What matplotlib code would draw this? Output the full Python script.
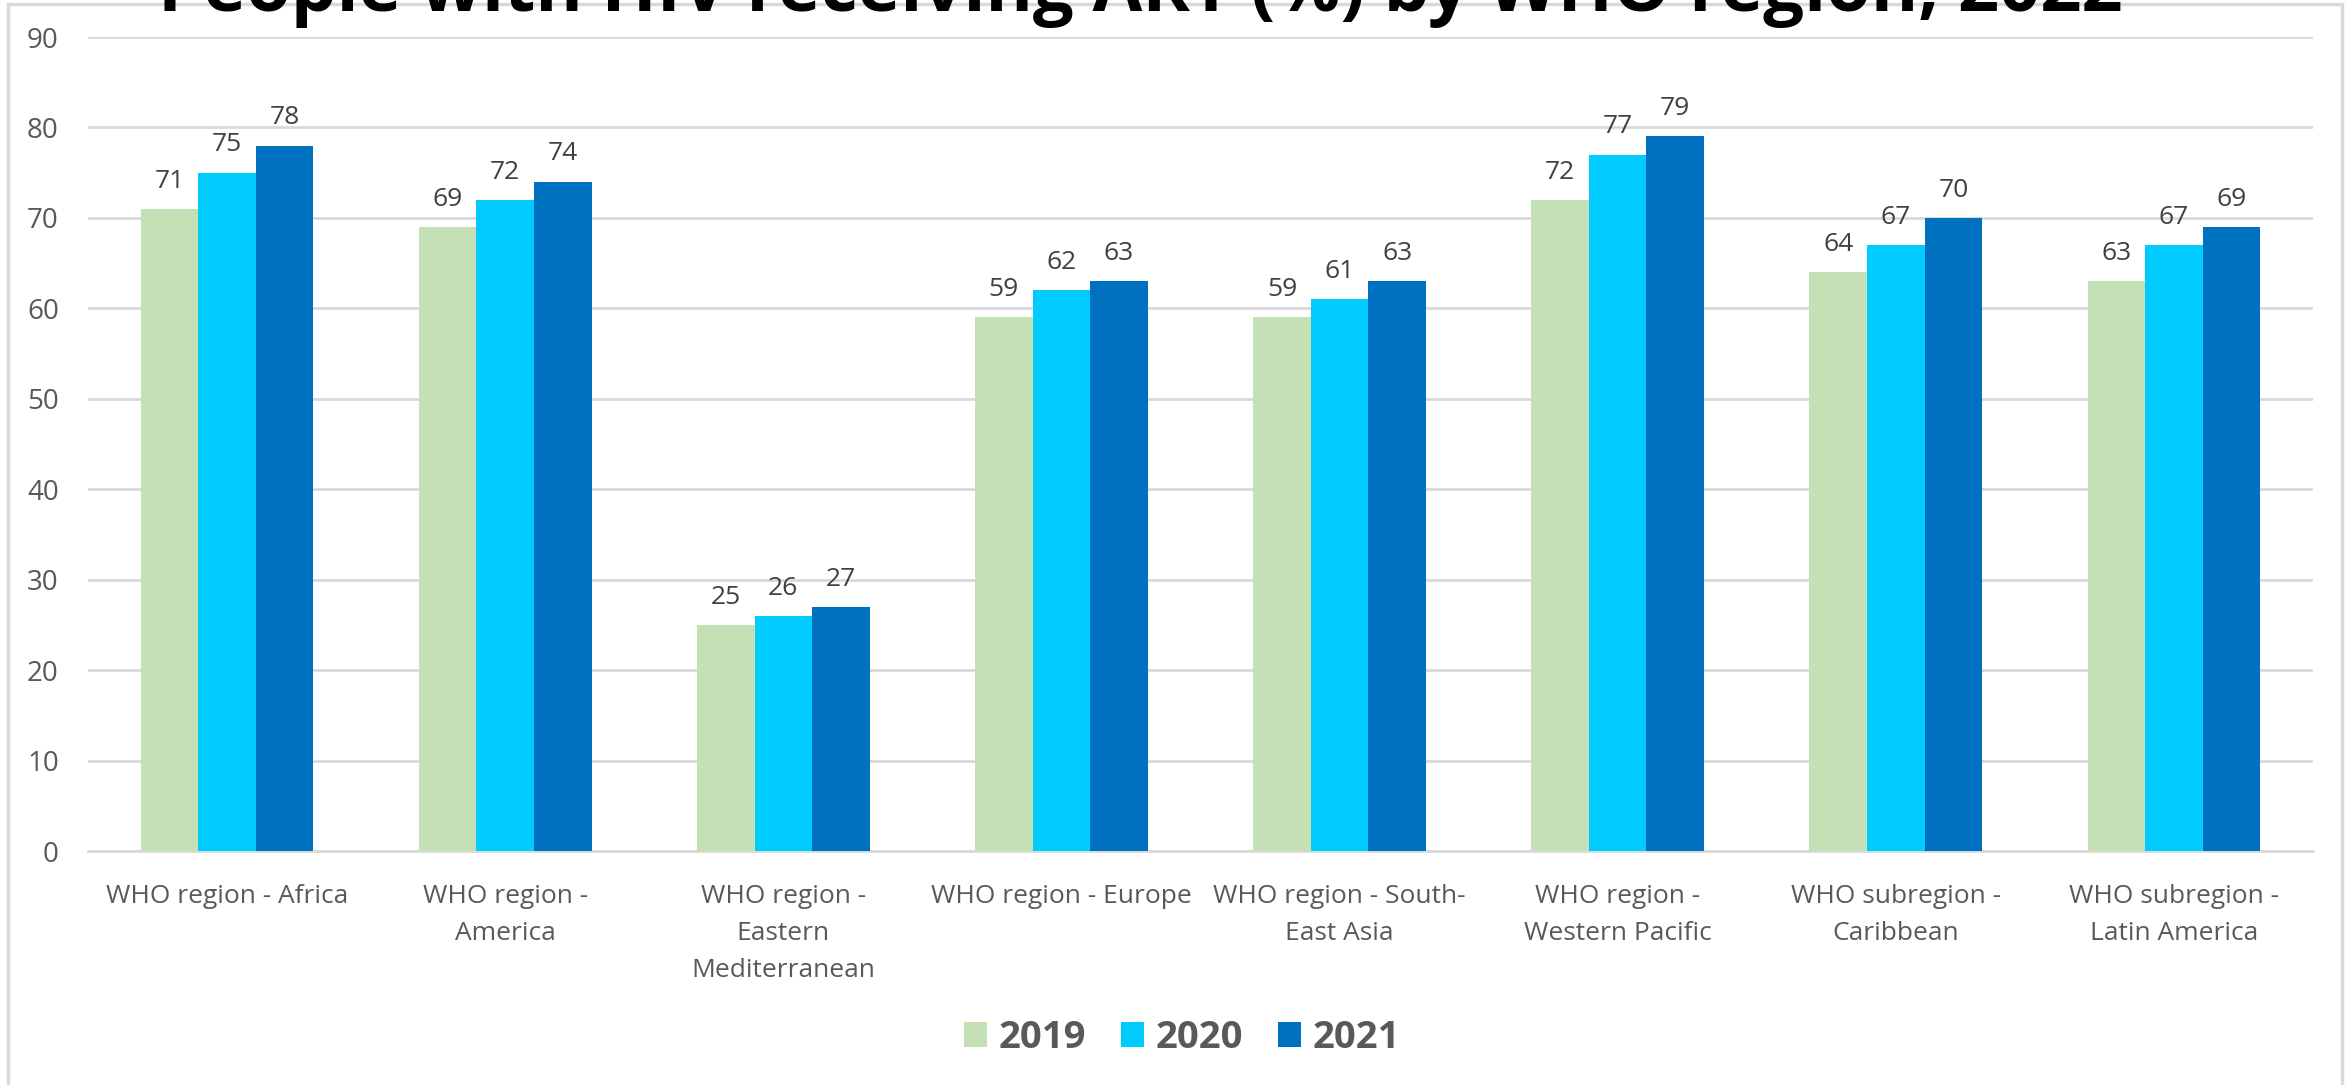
import numpy as np
import matplotlib
matplotlib.use("Agg")
import matplotlib.pyplot as plt
from matplotlib.patches import Rectangle

# Data
regions = ["WHO region - Africa", "WHO region -\nAmerica", "WHO region -\nEastern\nMediterranean",
           "WHO region - Europe", "WHO region - South-\nEast Asia", "WHO region -\nWestern Pacific",
           "WHO subregion -\nCaribbean", "WHO subregion -\nLatin America"]
years = ["2019", "2020", "2021"]
art_2019 = [71, 69, 25, 59, 59, 72, 64, 63]
art_2020 = [75, 72, 26, 62, 61, 77, 67, 67]
art_2021 = [78, 74, 27, 63, 63, 79, 70, 69]
colors = ["#c5e0b4", "#00ccff", "#0070c0"]

plt.rcParams['font.family'] = ['Open Sans', 'DejaVu Sans']

W, H = 2351, 1085
fig = plt.figure(figsize=(W / 100, H / 100), dpi=100)
ax = fig.add_axes([88 / W, 1 - 851 / H, (2313 - 88) / W, (851 - 37) / H])

x = np.arange(len(regions))
width = 0.207
for i, (vals, col, yr) in enumerate(zip([art_2019, art_2020, art_2021], colors, years)):
    bars = ax.bar(x + (i - 1) * width, vals, width, color=col, label=yr, zorder=3)
    for b, v in zip(bars, vals):
        ax.annotate(str(v), (b.get_x() + b.get_width() / 2, v), xytext=(0, 11),
                    textcoords="offset points", ha="center", va="bottom",
                    fontsize=19, color="#404040")

ax.set_xlim(-0.5, len(regions) - 0.5)
ax.set_ylim(0, 90)
ax.set_yticks(range(0, 91, 10))
ax.yaxis.grid(True, color="#d9d9d9", linewidth=2, zorder=0)
ax.set_axisbelow(True)
for s in ["top", "right", "left"]:
    ax.spines[s].set_visible(False)
ax.spines["bottom"].set_color("#d9d9d9")
ax.spines["bottom"].set_linewidth(2)
ax.tick_params(axis="y", length=0, labelsize=20, labelcolor="#595959", pad=21)
ax.tick_params(axis="x", length=0, labelsize=19, labelcolor="#595959", pad=24)
ax.set_xticks(x)
ax.set_xticklabels(regions, linespacing=1.63)

leg = fig.legend(loc="center", bbox_to_anchor=(1182 / W, 1 - 1038 / H), ncol=3,
                 frameon=False, prop={"size": 27.5, "weight": "bold"},
                 handlelength=0.62, handleheight=0.62, handletextpad=0.3, columnspacing=0.9)
for t in leg.get_texts():
    t.set_color("#595959")

# chart border
fig.patches.append(Rectangle((8 / W, -0.05), (2342 - 8) / W, 1.05 - 4 / H,
                             transform=fig.transFigure, fill=False,
                             edgecolor="#d9d9d9", linewidth=2.5))

# title (clipped at the top, as in the source image)
fig.text(0.485, 1 - 11 / H, "People with HIV receiving ART (%) by WHO region, 2022",
         ha="center", va="baseline", fontsize=52, fontweight="bold", color="black")

fig.savefig("out.png", dpi=100)
